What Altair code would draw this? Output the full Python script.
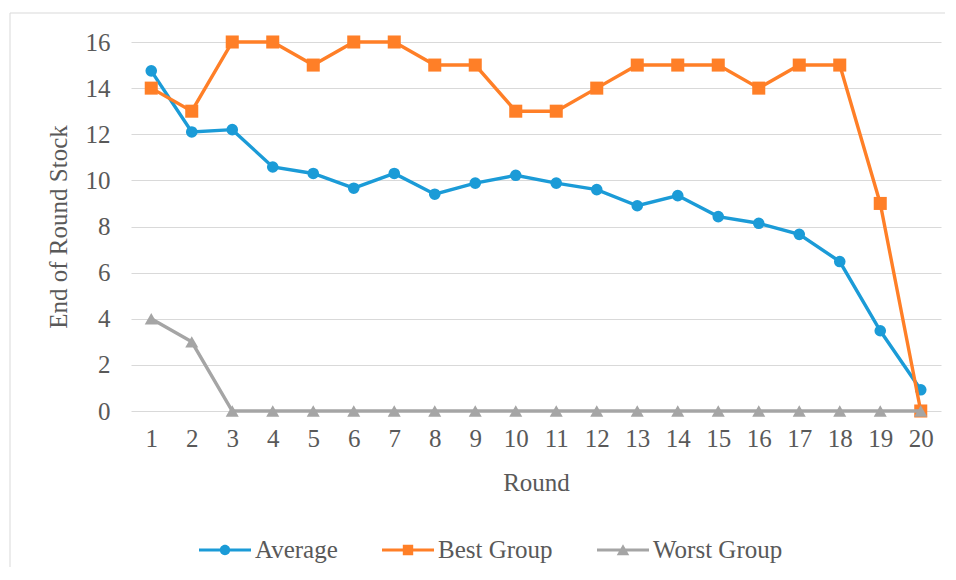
import altair as alt
import pandas as pd

rounds = list(range(1, 21))
average = [14.75, 12.1, 12.2, 10.58, 10.3, 9.66, 10.3, 9.4, 9.88, 10.22,
           9.88, 9.6, 8.9, 9.34, 8.43, 8.14, 7.66, 6.48, 3.48, 0.92]
best = [14, 13, 16, 16, 15, 16, 16, 15, 15, 13, 13, 14, 15, 15, 15, 14, 15, 15, 9, 0]
worst = [4, 3, 0, 0, 0, 0, 0, 0, 0, 0, 0, 0, 0, 0, 0, 0, 0, 0, 0, 0]

series = ["Average", "Best Group", "Worst Group"]
colors = ["#1B9BD7", "#FF7F27", "#A5A5A5"]
shapes = ["circle", "square", "triangle-up"]
sizes = [135, 170, 170]
legend_paths = [
    "M-1,-0.06H1V0.06H-1Z M0.2,0A0.2,0.2 0 1,1 -0.2,0A0.2,0.2 0 1,1 0.2,0Z",
    "M-1,-0.06H1V0.06H-1Z M-0.2,-0.2H0.2V0.2H-0.2Z",
    "M-1,-0.06H1V0.06H-1Z M0,-0.22L0.24,0.2H-0.24Z",
]

rows = []
for name, vals in zip(series, [average, best, worst]):
    for r, v in zip(rounds, vals):
        rows.append({"Round": r, "Value": v, "Series": name})
df = pd.DataFrame(rows)

FONT = "Liberation Serif"
TXT = "#595959"

x_enc = alt.X("Round:O", title="Round",
              scale=alt.Scale(paddingInner=0, paddingOuter=0),
              axis=alt.Axis(labelAngle=0, domain=False, ticks=False, grid=False,
                            labelPadding=15, titlePadding=19,
                            labelFont=FONT, titleFont=FONT, labelFontSize=25,
                            titleFontSize=25, labelColor=TXT, titleColor=TXT,
                            titleFontWeight="normal"))
y_enc = alt.Y("Value:Q", title="End of Round Stock",
              scale=alt.Scale(domain=[0, 16], nice=False),
              axis=alt.Axis(values=list(range(0, 17, 2)), domain=False, ticks=False,
                            grid=True, gridColor="#D9D9D9", gridWidth=1,
                            labelPadding=21, titlePadding=14,
                            labelFont=FONT, titleFont=FONT, labelFontSize=25,
                            titleFontSize=25, labelColor=TXT, titleColor=TXT,
                            titleFontWeight="normal"))

base = alt.Chart(df)
layers = []
for name, col, shp, sz in zip(series, colors, shapes, sizes):
    sub = base.transform_filter(alt.datum.Series == name)
    layers.append(sub.mark_line(color=col, strokeWidth=3.4).encode(x=x_enc, y=y_enc))
    layers.append(sub.mark_point(color=col, shape=shp, size=sz, filled=True, opacity=1)
                  .encode(x=x_enc, y=y_enc))

leg = alt.Legend(title=None, orient="none", direction="horizontal",
                 legendX=68, legendY=482, symbolSize=2704,
                 symbolStrokeWidth=0, labelOffset=4,
                 columnPadding=44, padding=0,
                 labelFont=FONT, labelFontSize=25, labelColor=TXT)

legend_layer = base.transform_filter("false").mark_point(filled=True, opacity=1).encode(
    x=x_enc, y=y_enc,
    color=alt.Color("Series:N", scale=alt.Scale(domain=series, range=colors), legend=leg),
    shape=alt.Shape("Series:N", scale=alt.Scale(domain=series, range=legend_paths), legend=leg),
)

frame = alt.Chart(alt.Data(values=[{"a": 1}]))
top_border = frame.mark_rule(color="#D9D9D9", strokeWidth=1).encode(
    x=alt.value(-121), x2=alt.value(814), y=alt.value(-29))
left_border = frame.mark_rule(color="#D9D9D9", strokeWidth=1).encode(
    x=alt.value(-121), y=alt.value(-29), y2=alt.value(525))

chart = alt.layer(top_border, left_border, *layers, legend_layer).properties(
    width=810, height=369,
    padding={"left": 1, "top": 4, "right": 0, "bottom": 0},
).configure(font=FONT).configure_view(stroke=None).configure_axis(
    labelFont=FONT, titleFont=FONT,
).configure_legend(
    labelFont=FONT, labelFontSize=25, labelColor=TXT,
)

chart.save("out.html", embed_options={"renderer": "svg", "actions": False})
